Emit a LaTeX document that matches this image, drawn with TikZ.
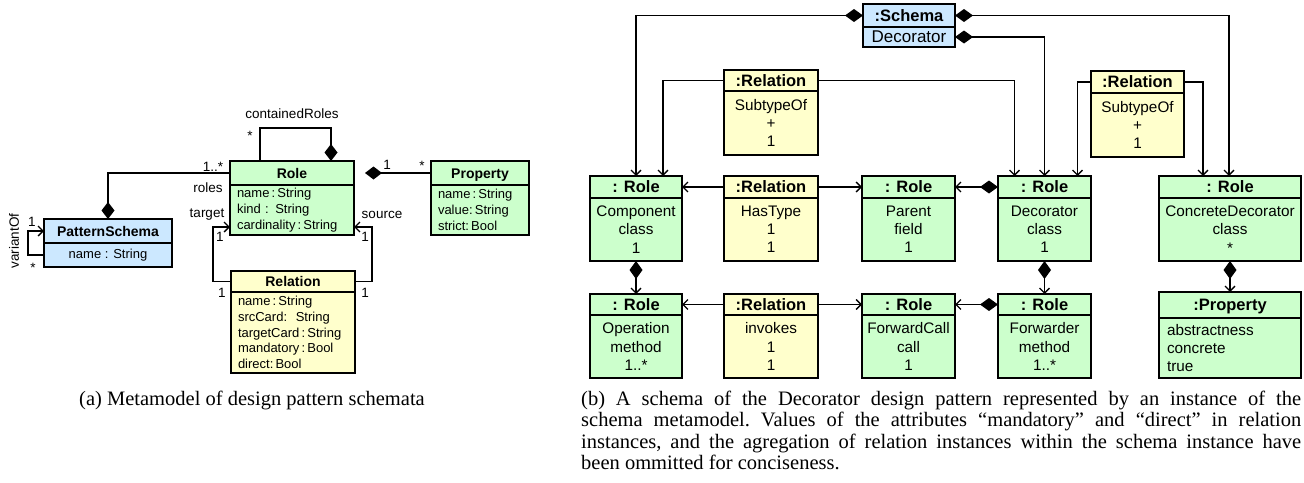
\documentclass[tikz,border=0pt]{standalone}
\usepackage{fontspec}
\setmainfont{Liberation Sans}
\newfontfamily\capserif{Liberation Serif}
\usetikzlibrary{positioning,arrows.meta}

\definecolor{rolegreen}{RGB}{204,255,204}
\definecolor{relyellow}{RGB}{255,255,204}
\definecolor{schblue}{RGB}{204,232,255}

\def \hdfontA {\fontsize{14}{16}\selectfont\bfseries}
\def \txfontA {\fontsize{13}{15.7}\selectfont}
\def \lbfontA {\fontsize{13.5}{15}\selectfont}
\def \hdfontB {\fontsize{16.5}{18}\selectfont\bfseries}
\def \txfontB {\fontsize{15.3}{18.2}\selectfont}
\def \capfontAB {\capserif\fontsize{20.5}{21.6}\selectfont\frenchspacing}

\tikzset{
  box/.style={draw, line width=1.6pt, inner sep=0pt, outer sep=0pt},
  heada/.style={box, font=\hdfontA, minimum height=24, text height=10pt, text depth=0pt},
  bodya/.style={box, font=\txfontA, align=left, inner xsep=7pt},
  headb/.style={box, font=\hdfontB, minimum height=22, text height=11.8pt, text depth=0pt},
  bodyb/.style={box, font=\txfontB, align=center, minimum height=63},
  lbl/.style={font=\lbfontA, inner sep=0pt},
  conn/.style={line width=1.3pt},
  assoc/.style={conn, -{Straight Barb[length=5pt,width=10pt]}},
  comp/.style={conn, {Diamond[length=17pt,width=13pt]}-},
  compto/.style={conn, {Diamond[length=18pt,width=13pt]}-{Straight Barb[length=5pt,width=10pt]}}
}

\begin{document}
\begin{tikzpicture}[x=1pt, y=-1pt]
\useasboundingbox (0,0) rectangle (1304,482);

% (a) metamodel
\node[heada, fill=schblue, minimum width=128] (ps) at (108,231) {PatternSchema};
\node[bodya, fill=schblue, minimum width=128, minimum height=24, align=center, below=0pt of ps] (psb) {name : String};

\node[heada, fill=rolegreen, minimum width=124] (rol) at (292,173) {Role};
\node[bodya, fill=rolegreen, text width=110, minimum height=50, below=0pt of rol] (rolb)
  {name\,:\,String\\kind : String\\cardinality\,:\,String};

\node[heada, fill=rolegreen, minimum width=98] (prp) at (480,173) {Property};
\node[bodya, fill=rolegreen, text width=84, minimum height=50, below=0pt of prp] (prpb)
  {name\,:\,String\\value:\,String\\strict:\,Bool};

\node[heada, fill=relyellow, minimum width=124, minimum height=21] (rel) at (293,281.5) {Relation};
\node[bodya, fill=relyellow, text width=110, minimum height=81, below=0pt of rel] (relb)
  {name\,:\,String\\srcCard:\ \ String\\targetCard\,:\,String\\mandatory\,:\,Bool\\direct:\,Bool};

\draw[comp] (ps.north) |- (rol.west);
\draw[comp] ([xshift=39]rol.north) -- ++(0,-33) -| ([xshift=-32]rol.north);
\draw[comp] ([xshift=11]rol.east) -- (prp.west);
\draw[assoc] (rel.west) -- ++(-18,0) |- ([yshift=-17]rolb.west);
\draw[assoc] (rel.east) -- ++(17,0) |- ([yshift=-17]rolb.east);
\draw[assoc] (psb.west) -- ++(-16,0) |- (ps.west);

\begin{scope}[every node/.style={lbl}]
\node (lvar) at (14,241) [rotate=90] {variantOf};
\node (lvar1) at (32,222) {1};
\node (lvar2) at (33,268) {*};
\node (lroles1) at (213,167) {1..*};
\node (lroles) at (208,188) {roles};
\node (lcont) at (292,114) {containedRoles};
\node (lcont1) at (250,136) {*};
\node (lprp1) at (387,165) {1};
\node (lprp2) at (422,166) {*};
\node (ltgt) at (207,215) {target};
\node (ltgt1) at (220,237) {1};
\node (ltgt2) at (222,293) {1};
\node (lsrc) at (382,215) {source};
\node (lsrc1) at (365,237) {1};
\node (lsrc2) at (365,293) {1};
\end{scope}

% (b) decorator schema
\node[headb, fill=schblue, minimum width=92, minimum height=23] (sch) at (909,15.5) {:Schema};
\node[box, fill=schblue, font=\fontsize{17}{18}\selectfont, minimum width=92, minimum height=20, below=0pt of sch] (schb) {Decorator};

\node[headb, fill=relyellow, minimum width=94, minimum height=21] (sub1) at (771,80.5) {:Relation};
\node[bodyb, fill=relyellow, minimum width=94, minimum height=64, below=0pt of sub1] (sub1b) {SubtypeOf\\+\\1};
\node[headb, fill=relyellow, minimum width=93] (sub2) at (1137.5,82) {:Relation};
\node[bodyb, fill=relyellow, minimum width=93, minimum height=64, below=0pt of sub2] (sub2b) {SubtypeOf\\+\\1};

\node[headb, fill=rolegreen, minimum width=92] (cmp) at (636,187) {: Role};
\node[bodyb, fill=rolegreen, minimum width=92, below=0pt of cmp] (cmpb) {Component\\class\\1};
\node[headb, fill=relyellow, minimum width=94] (ht) at (771,187) {:Relation};
\node[bodyb, fill=relyellow, minimum width=94, below=0pt of ht] (htb) {HasType\\1\\1};
\node[headb, fill=rolegreen, minimum width=93] (par) at (908.5,187) {: Role};
\node[bodyb, fill=rolegreen, minimum width=93, below=0pt of par] (parb) {Parent\\field\\1};
\node[headb, fill=rolegreen, minimum width=93] (dec) at (1044.5,187) {: Role};
\node[bodyb, fill=rolegreen, minimum width=93, below=0pt of dec] (decb) {Decorator\\class\\1};
\node[headb, fill=rolegreen, minimum width=142] (cdec) at (1230,187) {: Role};
\node[bodyb, fill=rolegreen, minimum width=142, below=0pt of cdec] (cdecb) {ConcreteDecorator\\class\\*};

\node[headb, fill=rolegreen, minimum width=92, minimum height=21] (op) at (636,304.5) {: Role};
\node[bodyb, fill=rolegreen, minimum width=92, below=0pt of op] (opb) {Operation\\method\\1..*};
\node[headb, fill=relyellow, minimum width=94, minimum height=21] (inv) at (771,304.5) {:Relation};
\node[bodyb, fill=relyellow, minimum width=94, below=0pt of inv] (invb) {invokes\\1\\1};
\node[headb, fill=rolegreen, minimum width=93, minimum height=21] (fc) at (908.5,304.5) {: Role};
\node[bodyb, fill=rolegreen, minimum width=93, below=0pt of fc] (fcb) {ForwardCall\\call\\1};
\node[headb, fill=rolegreen, minimum width=93, minimum height=21] (fwd) at (1044.5,304.5) {: Role};
\node[bodyb, fill=rolegreen, minimum width=93, below=0pt of fwd] (fwdb) {Forwarder\\method\\1..*};
\node[headb, fill=rolegreen, minimum width=142, minimum height=26] (prop) at (1230,305) {:Property};
\node[bodyb, fill=rolegreen, align=left, text width=126, inner xsep=8pt, minimum height=60, below=0pt of prop] (propb)
  {abstractness\\concrete\\true};

\draw[compto] (sch.west) -| (cmp.north);
\draw[compto] (sch.east) -| ([xshift=-1]cdec.north);
\draw[compto] (schb.east) -| (dec.north);
\draw[assoc] (sub1.west) -| ([xshift=27]cmp.north);
\draw[assoc] (sub1.east) -| ([xshift=-30]dec.north);
\draw[assoc] (sub2.west) -| ([xshift=33]dec.north);
\draw[assoc] (sub2.east) -| ([xshift=-27]cdec.north);

\draw[assoc] (ht.west) -- (cmp.east);
\draw[assoc] (ht.east) -- (par.west);
\draw[compto] (dec.west) -- (par.east);
\draw[compto] (cmpb.south) -- (op.north);
\draw[compto] (decb.south) -- (fwd.north);
\draw[compto] (cdecb.south) -- (prop.north);
\draw[assoc] (inv.west) -- (op.east);
\draw[assoc] (inv.east) -- (fc.west);
\draw[compto] (fwd.west) -- (fc.east);

% captions
\node[font=\capfontAB, inner sep=0pt, anchor=base] (capa) at (252,405) {(a) Metamodel of design pattern schemata};
\node[font=\capfontAB, inner sep=0pt, anchor=base west, text width=720, align=justify] (capb) at (581,405)
  {(b) A schema of the Decorator design pattern represented by an instance of the\linebreak
   schema metamodel. Values of the attributes “mandatory” and “direct” in relation\linebreak
   instances, and the agregation of relation instances within the schema instance have\linebreak
   been ommitted for conciseness.};

\end{tikzpicture}
\end{document}
